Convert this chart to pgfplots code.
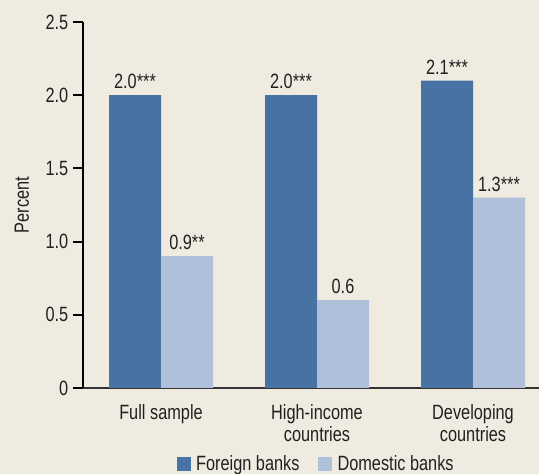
\documentclass[border=0pt]{standalone}
\usepackage{pgfplots}
\pgfplotsset{compat=1.18}
\usepackage{pgfplotstable}
\usepackage{fontspec}
\setmainfont{Liberation Sans}[FakeStretch=0.79]

\definecolor{bgcol}{RGB}{239,235,225}
\definecolor{foreign}{RGB}{71,114,163}
\definecolor{domestic}{RGB}{176,191,218}
\definecolor{txt}{RGB}{35,31,32}

\pgfplotstableread{
x foreign flab domestic dlab
0 2.0 2.0*** 0.9 0.9**
1 2.0 2.0*** 0.6 0.6
2 2.1 2.1*** 1.3 1.3***
}\banks

\begin{document}
\begin{tikzpicture}
\fill[bgcol] (0,0) rectangle (404.25pt,355.5pt);
\begin{axis}[
    at={(62.25pt,64.5pt)}, anchor=south west,
    x=117pt, y=109.8pt,
    xmin=-0.5, xmax=2.423,
    ymin=0, ymax=2.5,
    axis x line*=bottom,
    axis y line*=left,
    x axis line style={draw=black!80, line width=1.1pt},
    y axis line style={draw=black, line width=1.1pt},
    ytick={0,0.5,1,1.5,2,2.5},
    yticklabels={0,0.5,1.0,1.5,2.0,2.5},
    ytick style={draw=black, line width=1.5pt},
    tick align=outside,
    major tick length=7.5pt,
    xtick={0,1,2},
    xticklabels={Full sample, High-income\\countries, Developing\\countries},
    xtick style={draw=none},
    xticklabel style={align=center, yshift=-1pt},
    ticklabel style={font=\fontsize{15.5}{16.5}\selectfont, text=txt},
    ylabel={Percent},
    ylabel style={at={(axis description cs:-0.1338,0.5)}, anchor=center, font=\fontsize{15.5}{16.5}\selectfont, text=txt},
    ybar, bar width=39pt,
    point meta=explicit symbolic,
    nodes near coords,
    nodes near coords style={font=\fontsize{15.5}{16.5}\selectfont, text=txt, inner sep=0pt, yshift=4.5pt},
    legend columns=2,
    legend style={at={(axis cs:0.997,-0.519)}, anchor=center, draw=none, fill=none,
        font=\fontsize{15.5}{16.5}\selectfont, text=txt,
        /tikz/every odd column/.append style={column sep=2pt},
        /tikz/every even column/.append style={column sep=12pt}},
    legend image code/.code={\fill[#1] (0pt,-5.25pt) rectangle (10.5pt,5.25pt);},
    clip=false,
]
\addplot[fill=foreign, draw=none, bar shift=-19.5pt] table[x=x, y=foreign, meta=flab] {\banks};
\addplot[fill=domestic, draw=none, bar shift=19.5pt] table[x=x, y=domestic, meta=dlab] {\banks};
\legend{Foreign banks, Domestic banks}
\end{axis}
\pgfresetboundingbox
\useasboundingbox (0,0) rectangle (404.25pt,355.5pt);
\end{tikzpicture}
\end{document}
